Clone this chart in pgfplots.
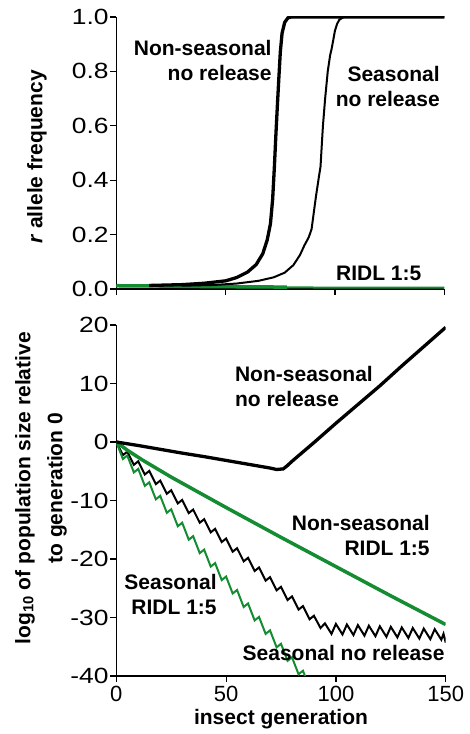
\documentclass[border=0pt]{standalone}
\usepackage{pgfplots}
\pgfplotsset{compat=1.18}
\usepackage{fontspec}
\setmainfont{Liberation Sans}
\newfontfamily\ytickfont[FakeStretch=1.2]{Liberation Sans}
\definecolor{ridl}{RGB}{20,140,50}
\begin{document}
\begin{tikzpicture}
\useasboundingbox (0,0) rectangle (469pt,734pt);
\pgfplotsset{every axis/.append style={
  scale only axis, axis x line*=bottom, axis y line*=left,
  clip mode=individual,
  tick align=outside, major tick length=6pt, xmin=0, xmax=150,
  xtick={0,50,100,150},
  tick style={black, line width=1.2pt}, axis line style={line width=1.3pt},
  yticklabel style={inner xsep=1.5pt, font=\fontsize{22}{25}\ytickfont},
  xticklabel style={inner ysep=3.5pt, font=\fontsize{22}{25}\selectfont},
}}
% ---------------- top panel ----------------
\begin{axis}[at={(116.3pt,445pt)}, anchor=south west,
  width=328pt, height=272pt, ymin=0, ymax=1,
  ytick={0,0.2,0.4,0.6,0.8,1.0},
  yticklabels={0.0,0.2,0.4,0.6,0.8,1.0},
  xticklabels={}]
\addplot[ridl, line width=2pt] coordinates {(0,0.011) (20,0.010) (40,0.008) (60,0.007) (80,0.006) (100,0.005) (150,0.005)};
\addplot[ridl, line width=3.5pt] coordinates {(0,0.012) (20,0.011) (40,0.009) (60,0.008) (78,0.007)};
\addplot[black, line width=3.3pt] coordinates {(15,0.013) (30,0.016) (40,0.021) (50,0.03) (55,0.042) (60,0.062) (64,0.09) (67,0.13) (69,0.18) (70.5,0.24) (71.5,0.33) (72.3,0.45) (73,0.57) (73.7,0.68) (74.3,0.77) (75,0.87) (75.8,0.94) (77,0.98) (78.5,0.997) (80,1.0) (150,1.0)};
\addplot[black, line width=2pt] coordinates {(30,0.012) (45,0.015) (55,0.02) (65,0.03) (72,0.043) (77,0.06) (81,0.088) (84,0.125) (86,0.16) (88,0.19) (89.3,0.22) (90.3,0.28) (91.3,0.34) (92.8,0.42) (93.4,0.45) (93.9,0.52) (94.5,0.6) (95.5,0.7) (96.7,0.8) (97.8,0.86) (98.4,0.88) (99.1,0.91) (100,0.95) (101,0.975) (102,0.99) (104,1.0) (150,1.0)};
\node[anchor=east, align=right, inner sep=0pt, font=\fontsize{21}{25}\selectfont\bfseries] at (axis cs:71.1,0.841) {Non-seasonal\\no release};
\node[anchor=east, align=right, inner sep=0pt, font=\fontsize{21}{25}\selectfont\bfseries] at (axis cs:148,0.746) {Seasonal\\no release};
\node[anchor=east, inner sep=0pt, font=\fontsize{21}{25}\selectfont\bfseries] at (axis cs:139.6,0.058) {RIDL 1:5};
\node[rotate=90, inner sep=0pt, font=\fontsize{21}{25}\selectfont\bfseries] at (axis cs:-36.3,0.485) {\textit{r} allele frequency};
\end{axis}
% ---------------- bottom panel ----------------
\begin{axis}[at={(116.3pt,58pt)}, anchor=south west,
  width=329.4pt, height=351pt, ymin=-40, ymax=20,
  ytick={-40,-30,-20,-10,0,10,20},
  yticklabels={-40,-30,-20,-10,0,10,20},
  xticklabels={0,50,100,150}]
% seasonal no release (thin black)
\addplot[black, line width=2pt] coordinates {
(0,0) (3,-2.25) (5,-1.65) (8,-3.9) (10,-3.3) (13,-5.55) (15,-4.95) (18,-7.2)
(20,-6.6) (23,-8.85) (25,-8.25) (28,-10.5) (30,-9.9) (33,-12.15) (35,-11.55) (38,-13.8)
(40,-13.2) (43,-15.45) (45,-14.85) (48,-17.1) (50,-16.5) (53,-18.75) (55,-18.15) (58,-20.4)
(60,-19.8) (63,-22.05) (65,-21.45) (68,-23.7) (70,-23.1) (73,-25.35) (75,-24.75) (78,-27.0)
(80,-26.4) (83,-28.65) (85,-28.05) (88,-30.3) (90,-29.7) (93,-31.8)
(95,-31.0) (98,-32.8) (100,-31.1) (103,-32.9) (105,-31.2) (108,-33.0) (110,-31.3) (113,-33.1)
(115,-31.4) (118,-33.2) (120,-31.5) (123,-33.3) (125,-31.6) (128,-33.4) (130,-31.7) (133,-33.5)
(135,-31.8) (138,-33.6) (140,-31.9) (143,-33.7) (145,-32.0) (148,-33.8) (149,-32.8) (150,-34.3)};
% seasonal RIDL (thin green)
\addplot[ridl, line width=2pt] coordinates {
(0,0) (3,-2.9) (5,-2.3) (8,-5.2) (10,-4.6) (13,-7.5) (15,-6.9) (18,-9.8)
(20,-9.2) (23,-12.1) (25,-11.5) (28,-14.4) (30,-13.8) (33,-16.7) (35,-16.1) (38,-19.0)
(40,-18.4) (43,-21.3) (45,-20.7) (48,-23.6) (50,-23.0) (53,-25.9) (55,-25.3) (58,-28.2)
(60,-27.6) (63,-30.5) (65,-29.9) (68,-32.8) (70,-32.2) (73,-35.1) (75,-34.5) (78,-37.4)
(80,-36.8) (83,-39.7) (85,-39.1) (88,-42.0) (90,-41.4)};
% non-seasonal RIDL (thick green)
\addplot[ridl, line width=3.5pt] coordinates {
(0,0) (5,-1.4) (12,-3.1) (25,-6.0) (50,-11.2) (75,-16.3) (100,-21.3) (125,-26.3) (150,-31.2)};
% non-seasonal no release (thick black)
\addplot[black, line width=3.3pt] coordinates {
(0,0) (10,-0.6) (20,-1.25) (30,-1.9) (40,-2.5) (50,-3.15) (60,-3.8) (70,-4.45) (73,-4.7)
(76,-4.6) (78,-4.0) (80,-3.3) (90,-0.1) (100,3.2) (110,6.4) (120,9.6) (130,13.0) (140,16.3) (150,19.6)};
\node[anchor=west, align=left, inner sep=0pt, font=\fontsize{21}{25}\selectfont\bfseries] at (axis cs:54,9.5) {Non-seasonal\\no release};
\node[anchor=east, align=right, inner sep=0pt, font=\fontsize{21}{25}\selectfont\bfseries] at (axis cs:142.8,-16.0) {Non-seasonal\\RIDL 1:5};
\node[anchor=east, align=right, inner sep=0pt, font=\fontsize{21}{25}\selectfont\bfseries] at (axis cs:45.8,-26.1) {Seasonal\\RIDL 1:5};
\node[anchor=east, inner sep=0pt, font=\fontsize{21}{25}\selectfont\bfseries] at (axis cs:149.6,-36.1) {Seasonal no release};
\node[rotate=90, align=center, inner sep=0pt, font=\fontsize{21}{32}\selectfont\bfseries] at (axis cs:-34.3,-7.9) {log\textsubscript{10} of population size relative\\to generation 0};
\node[inner sep=0pt, font=\fontsize{21}{25}\selectfont\bfseries] at (axis cs:75,-47.3) {insect generation};
\end{axis}
\end{tikzpicture}
\end{document}
